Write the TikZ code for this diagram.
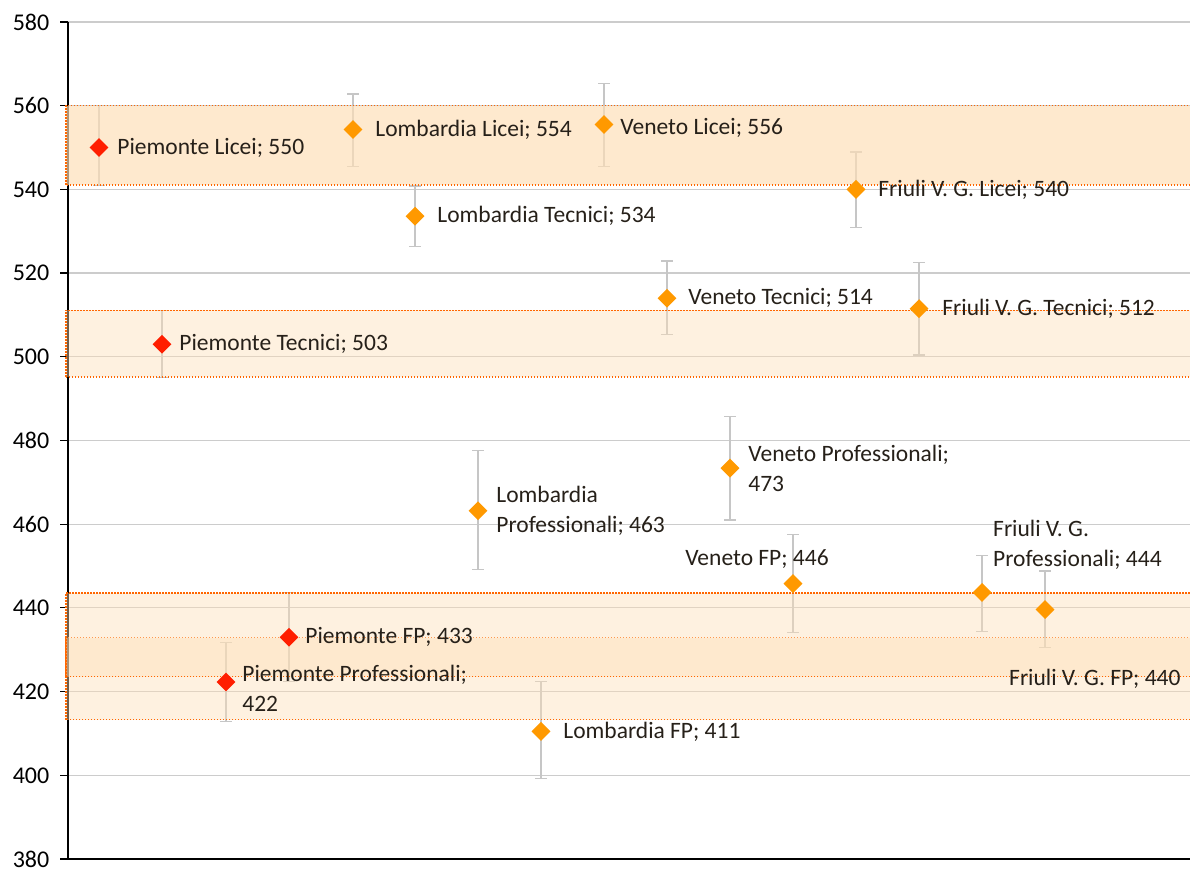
\documentclass[tikz,border=0pt]{standalone}
\usepackage{fontspec}
\setmainfont{Carlito}
\usetikzlibrary{shapes.geometric, positioning}
\definecolor{piered}{RGB}{255,30,0}
\definecolor{regorange}{RGB}{255,153,0}
\definecolor{bandfill}{RGB}{253,222,183}
\definecolor{bandline}{RGB}{255,102,0}
\definecolor{lbltext}{RGB}{38,32,25}
\tikzstyle{gridline} = [draw=gray!40, line width=1.2pt]
\tikzstyle{axisline} = [draw=black, line width=1.2pt]
\tikzstyle{band} = [draw=bandline, line width=1.5pt, dash pattern=on 1.5pt off 1.5pt, fill=bandfill, fill opacity=0.43]
\tikzstyle{errbar} = [draw=gray!45, line width=1.3pt]
\tikzstyle{piemonte} = [diamond, fill=piered, minimum size=19pt, inner sep=0pt]
\tikzstyle{region} = [diamond, fill=regorange, minimum size=19pt, inner sep=0pt]
\tikzstyle{lbl} = [font=\fontsize{23.5}{30}\selectfont, text=lbltext, inner sep=0pt, align=left]
\tikzstyle{ticklbl} = [font=\fontsize{24}{24}\selectfont, text=black, anchor=east, inner sep=0pt]

\begin{document}
\begin{tikzpicture}[x=1pt, y=4.185pt]
\useasboundingbox (0,377.85) rectangle (1190,585.26);

% grid and axes
\foreach \v in {400,420,...,580}
  \draw[gridline] (68,\v) -- (1190,\v);
\foreach \v in {380,400,...,580} {
  \draw[axisline] (60,\v) -- (68,\v);
  \node[ticklbl] (t\v) at (49.5,\v) {\v};
}
\draw[axisline] (68,580) -- (68,380) -- (1190,380);

% error bars
\foreach \x/\lo/\hi in {99/541/560, 162/495.1/511.1, 226/412.9/431.7, 289/422.4/443.6,
    353/545.4/562.8, 415/526.4/540.8, 478/449.1/477.6, 541/399.3/422.4,
    604/545.4/565.3, 667/505.4/522.9, 730/461/485.7, 793/434.1/457.6,
    856/530.9/548.9, 919/500.4/522.6, 982/434.4/452.6, 1045/430.5/448.8}
  \draw[errbar] (\x-6,\lo) -- (\x+6,\lo) (\x,\lo) -- (\x,\hi) (\x-6,\hi) -- (\x+6,\hi);

% Piemonte bands
\draw[band, fill opacity=0.68] (66,541.1) rectangle (1194,560);
\draw[band] (66,495.2) rectangle (1194,511.1);
\draw[band] (66,413.3) rectangle (1194,432.9);
\draw[band] (66,423.6) rectangle (1194,443.6);

% markers
\node[piemonte] (pl) at (99,550) {};
\node[piemonte] (pt) at (162,503) {};
\node[piemonte] (pp) at (226,422.3) {};
\node[piemonte] (pfp) at (289,433) {};
\node[region] (ll) at (353,554.3) {};
\node[region] (lt) at (415,533.6) {};
\node[region] (lp) at (478,463.2) {};
\node[region] (lfp) at (541,410.5) {};
\node[region] (vl) at (604,555.5) {};
\node[region] (vt) at (667,514) {};
\node[region] (vp) at (730,473.4) {};
\node[region] (vfp) at (793,445.8) {};
\node[region] (fl) at (856,540) {};
\node[region] (ft) at (919,511.5) {};
\node[region] (fpr) at (982,443.7) {};
\node[region] (ffp) at (1045,439.6) {};

% labels
\node[lbl, right=8.5pt of pl] (plL) {Piemonte Licei; 550};
\node[lbl, right=7.5pt of pt] (ptL) {Piemonte Tecnici; 503};
\node[lbl, right=6.5pt of pp, yshift=-6pt] (ppL) {Piemonte Professionali;\\422};
\node[lbl, right=6.5pt of pfp] (pfpL) {Piemonte FP; 433};
\node[lbl, right=12.5pt of ll] (llL) {Lombardia Licei; 554};
\node[lbl, right=12.5pt of lt] (ltL) {Lombardia Tecnici; 534};
\node[lbl, right=8.5pt of lp] (lpL) {Lombardia\\Professionali; 463};
\node[lbl, right=12.5pt of lfp] (lfpL) {Lombardia FP; 411};
\node[lbl, right=6.5pt of vl, yshift=-3pt] (vlL) {Veneto Licei; 556};
\node[lbl, right=11.5pt of vt] (vtL) {Veneto Tecnici; 514};
\node[lbl, right=8.5pt of vp] (vpL) {Veneto Professionali;\\473};
\node[lbl, above=5pt of vfp, xshift=-36pt] (vfpL) {Veneto FP; 446};
\node[lbl, right=12.5pt of fl] (flL) {Friuli V. G. Licei; 540};
\node[lbl, right=13.5pt of ft] (ftL) {Friuli V. G. Tecnici; 512};
\node[lbl, anchor=south west, xshift=11pt, yshift=13pt] (fprL) at (fpr.north) {Friuli V. G.\\Professionali; 444};
\node[lbl, anchor=north west, xshift=-36pt, yshift=-50pt] (ffpL) at (ffp.south) {Friuli V. G. FP; 440};

\end{tikzpicture}
\end{document}
